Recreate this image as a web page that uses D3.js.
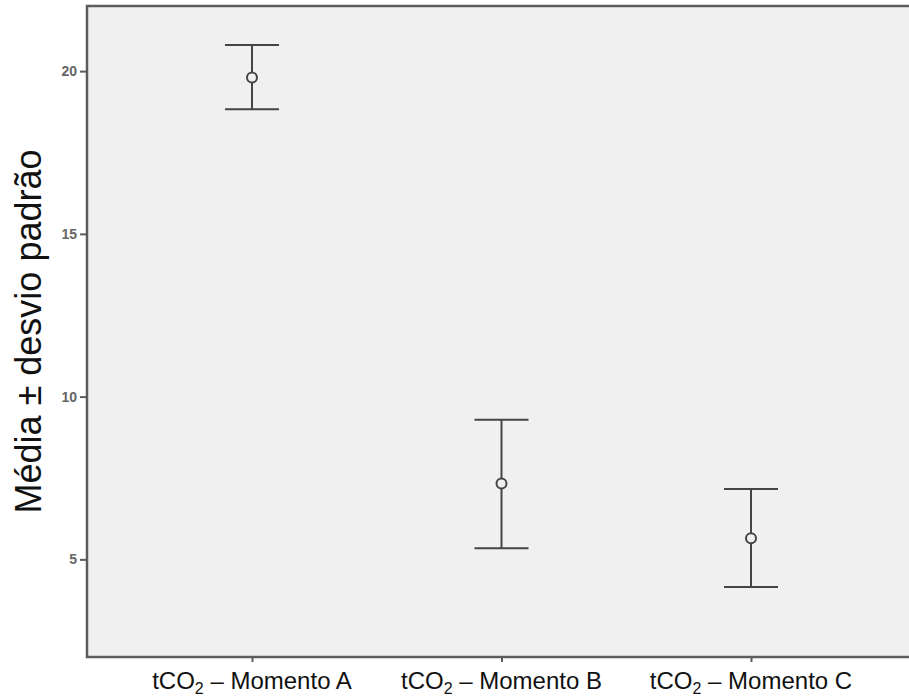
<!DOCTYPE html>
<html>
<head>
<meta charset="utf-8">
<script src="https://cdn.jsdelivr.net/npm/d3@7"></script>
<style>
  html, body { margin: 0; padding: 0; background: #ffffff; }
  svg { display: block; }
</style>
</head>
<body>
<svg id="chart" width="909" height="699"></svg>
<script>
// Mean ± standard deviation of tCO2 at three moments
const moments = ["A", "B", "C"];
const means   = [19.8, 7.33, 5.65];
const upper   = [20.8, 9.29, 7.16];
const lower   = [18.83, 5.34, 4.15];
const yTicks  = [5, 10, 15, 20];
const yTitle  = "Média ± desvio padrão";

const W = 909, H = 699;
const plot = { left: 87, top: 6, bottom: 657, right: 960 };

const svg = d3.select("#chart");

const x = d3.scalePoint()
  .domain(moments)
  .range([252, 751]);

const y = d3.scaleLinear()
  .domain([2, 22])
  .range([plot.bottom, plot.top]);

// plot background and frame
svg.append("rect")
  .attr("x", plot.left).attr("y", plot.top)
  .attr("width", plot.right - plot.left).attr("height", plot.bottom - plot.top)
  .attr("fill", "#f0f0f0")
  .attr("stroke", "#5c5c5c")
  .attr("stroke-width", 2.5);

// y axis
const yAxis = svg.append("g")
  .attr("transform", `translate(${plot.left},0)`)
  .call(d3.axisLeft(y).tickValues(yTicks).tickSize(7).tickPadding(3).tickFormat(d3.format("d")));
yAxis.select(".domain").remove();
yAxis.selectAll(".tick line").attr("stroke", "#5c5c5c").attr("stroke-width", 2);
yAxis.selectAll(".tick text")
  .attr("fill", "#666")
  .attr("font-family", "Liberation Sans, Arial, sans-serif")
  .attr("font-size", 14)
  .attr("font-weight", "bold");

// x axis: small ticks and subscripted category labels
const xAxis = svg.append("g")
  .attr("transform", `translate(0,${plot.bottom})`)
  .call(d3.axisBottom(x).tickSize(5).tickFormat(""));
xAxis.select(".domain").remove();
xAxis.selectAll(".tick line").attr("stroke", "#5c5c5c").attr("stroke-width", 2);

const labels = svg.append("g").selectAll("text")
  .data(moments)
  .join("text")
  .attr("x", d => x(d))
  .attr("y", 689)
  .attr("text-anchor", "middle")
  .attr("font-family", "Liberation Sans, Arial, sans-serif")
  .attr("font-size", 24)
  .attr("fill", "#111");
labels.append("tspan").text("tCO");
labels.append("tspan").attr("font-size", 16).attr("dy", 5).text("2");
labels.append("tspan").attr("dy", -5).text(d => " – Momento " + d);

// y axis title
svg.append("text")
  .attr("transform", `translate(41,${(plot.top + plot.bottom) / 2}) rotate(-90)`)
  .attr("text-anchor", "middle")
  .attr("font-family", "Liberation Sans, Arial, sans-serif")
  .attr("font-size", 36)
  .attr("fill", "#111")
  .text(yTitle);

// error bars
const capHalf = 27;
const bars = svg.append("g")
  .selectAll("g")
  .data(moments.map((m, i) => ({ m, mean: means[i], hi: upper[i], lo: lower[i] })))
  .join("g")
  .attr("stroke", "#454545")
  .attr("stroke-width", 2)
  .attr("fill", "none");

bars.append("line")
  .attr("x1", d => x(d.m)).attr("x2", d => x(d.m))
  .attr("y1", d => y(d.hi)).attr("y2", d => y(d.lo));
bars.append("line")
  .attr("x1", d => x(d.m) - capHalf).attr("x2", d => x(d.m) + capHalf)
  .attr("y1", d => y(d.hi)).attr("y2", d => y(d.hi));
bars.append("line")
  .attr("x1", d => x(d.m) - capHalf).attr("x2", d => x(d.m) + capHalf)
  .attr("y1", d => y(d.lo)).attr("y2", d => y(d.lo));
bars.append("circle")
  .attr("cx", d => x(d.m)).attr("cy", d => y(d.mean))
  .attr("r", 5)
  .attr("fill", "#f0f0f0");
</script>
</body>
</html>
